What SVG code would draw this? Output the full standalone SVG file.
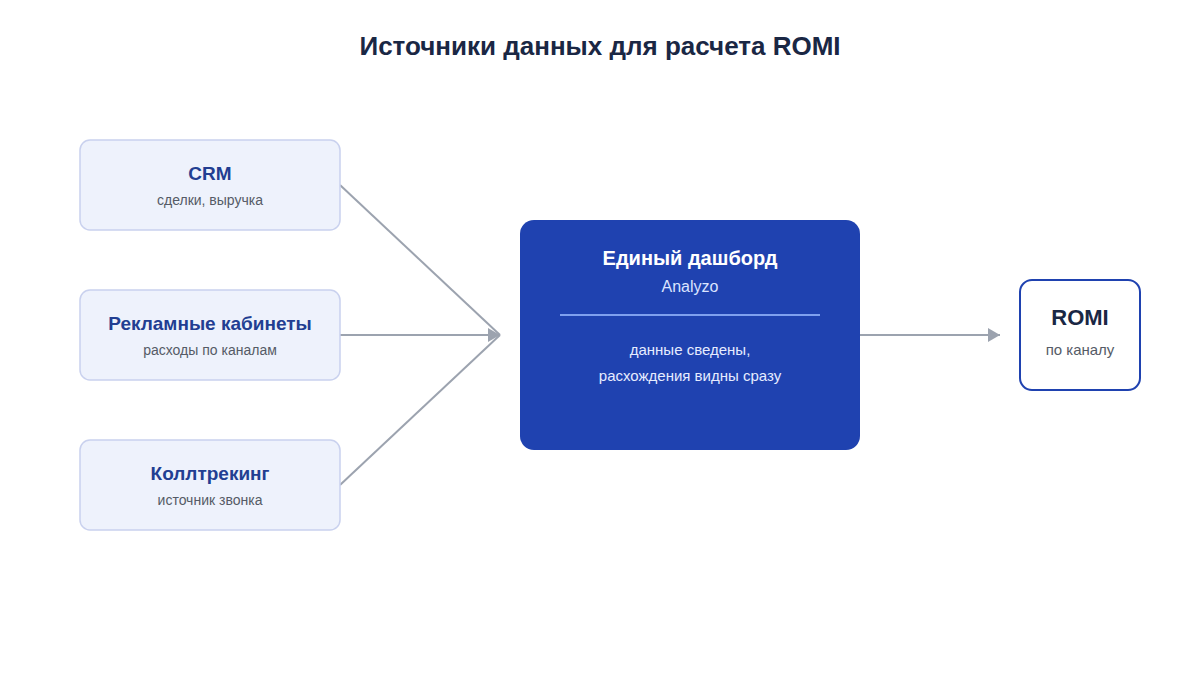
<svg xmlns="http://www.w3.org/2000/svg" width="1200" height="675" viewBox="0 0 1200 675">
<defs>
<style>
text{font-family:"Liberation Sans",Arial,sans-serif;text-anchor:middle}
.src rect{fill:#eef2fc;stroke:#c9d1ee;stroke-width:1.5}
.st{font-size:19px;font-weight:bold;fill:#223e92}
.ss{font-size:14px;fill:#555b66}
.c{stroke:#9ca3af;stroke-width:2;fill:none}
</style>
<marker id="a" markerWidth="12" markerHeight="14" refX="12" refY="7" orient="auto" markerUnits="userSpaceOnUse"><path d="M0,0L12,7L0,14Z" fill="#9ca3af"/></marker>
</defs>
<rect width="1200" height="675" fill="#fff"/>
<text x="600" y="55" font-size="26" font-weight="bold" fill="#1a2744">Источники данных для расчета ROMI</text>
<g id="connectors">
<path class="c" d="M340,185L500,335"/>
<path class="c" d="M340,335L500,335" marker-end="url(#a)"/>
<path class="c" d="M340,485L500,335"/>
<path class="c" d="M860,335L1000,335" marker-end="url(#a)"/>
</g>
<g id="crm" class="src"><rect x="80" y="140" width="260" height="90" rx="10"/><text class="st" x="210" y="180">CRM</text><text class="ss" x="210" y="205">сделки, выручка</text></g>
<g id="ads" class="src"><rect x="80" y="290" width="260" height="90" rx="10"/><text class="st" x="210" y="330">Рекламные кабинеты</text><text class="ss" x="210" y="355">расходы по каналам</text></g>
<g id="calltracking" class="src"><rect x="80" y="440" width="260" height="90" rx="10"/><text class="st" x="210" y="480">Коллтрекинг</text><text class="ss" x="210" y="505">источник звонка</text></g>
<g id="dashboard"><rect x="520" y="220" width="340" height="230" rx="14" fill="#1f42b0"/>
<text x="690" y="265" font-size="20" font-weight="bold" fill="#fff">Единый дашборд</text>
<text x="690" y="292" font-size="16" fill="#dbe4ff">Analyzo</text>
<line x1="560" y1="315" x2="820" y2="315" stroke="#7fa0ee" stroke-width="2"/>
<text x="690" y="355" font-size="15" fill="#e6ecff">данные сведены,</text>
<text x="690" y="381" font-size="15" fill="#e6ecff">расхождения видны сразу</text></g>
<g id="romi"><rect x="1020" y="280" width="120" height="110" rx="12" fill="#fff" stroke="#1f42b0" stroke-width="2"/>
<text x="1080" y="325" font-size="22" font-weight="bold" fill="#1a2744">ROMI</text>
<text x="1080" y="355" font-size="15" fill="#555b66">по каналу</text></g>
</svg>
